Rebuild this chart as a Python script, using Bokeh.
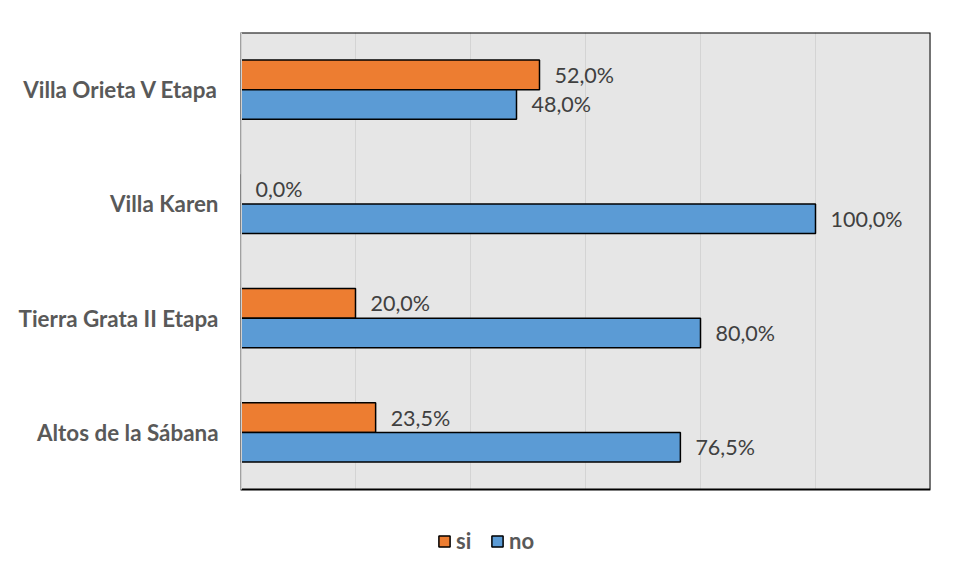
from bokeh.plotting import figure
from bokeh.models import (ColumnDataSource, Range1d, Legend, LegendItem,
                          FixedTicker, BoxAnnotation)
from bokeh.core.properties import value
from bokeh.embed import file_html
from bokeh.resources import INLINE

categories = ["Altos de la Sábana", "Tierra Grata II Etapa", "Villa Karen", "Villa Orieta V Etapa"]
si_values = [23.5, 20.0, 0.0, 52.0]
no_values = [76.5, 80.0, 100.0, 48.0]
x_ticks = [0, 20, 40, 60, 80, 100, 120]

def fmt(v):
    return f"{v:.1f}".replace(".", ",") + "%"

N = len(categories)
BAR_H = 0.26
OFF = 0.13
centers = [i + 0.5 for i in range(N)]

src = ColumnDataSource(dict(
    y_si=[c + OFF for c in centers],
    y_no=[c - OFF for c in centers],
    si=si_values,
    no=no_values,
    si_lbl=[fmt(v) for v in si_values],
    no_lbl=[fmt(v) for v in no_values],
))

W, H = 941, 563
TOP, LEFT, RIGHT = 32, 240, 11
PLOT_PX = 457                      # pixel height of the plotting area (categories)
unit = PLOT_PX / N
frame_h = H - TOP
y_bottom = N - frame_h / unit      # extra room under the plot area for the legend
frame_w = W - LEFT - RIGHT
px = (x_ticks[-1] - x_ticks[0]) / frame_w   # one pixel in x data units

p = figure(
    x_range=Range1d(x_ticks[0], x_ticks[-1]), y_range=Range1d(y_bottom, N),
    width=W, height=H, output_backend="svg", toolbar_location=None,
    min_border_left=LEFT, min_border_right=RIGHT, min_border_top=TOP, min_border_bottom=0,
)
p.background_fill_color = "white"
p.border_fill_color = "white"
p.outline_line_color = None
p.xgrid.grid_line_color = None
p.ygrid.grid_line_color = None
p.xaxis.visible = False

# plot-area background
p.add_layout(BoxAnnotation(left=x_ticks[0], right=x_ticks[-1], bottom=0, top=N,
                           fill_color="#E6E6E6", fill_alpha=1, line_color=None, level="underlay"))

# vertical gridlines
p.segment(x0=x_ticks, y0=[0] * len(x_ticks), x1=x_ticks, y1=[N] * len(x_ticks),
          line_color="#D4D4D4", line_width=1)

r_si = p.hbar(y="y_si", left=0, right="si", height=BAR_H,
              fill_color="#ED7D31", line_color="black", line_width=1.5, source=src)
r_no = p.hbar(y="y_no", left=0, right="no", height=BAR_H,
              fill_color="#5B9BD5", line_color="black", line_width=1.5, source=src)

p.text(x="si", y="y_si", text="si_lbl", source=src,
       x_offset=15, text_baseline="middle", text_align="left",
       text_font=value("Lato"), text_font_size="21.5px", text_color="#404040")
p.text(x="no", y="y_no", text="no_lbl", source=src,
       x_offset=15, text_baseline="middle", text_align="left",
       text_font=value("Lato"), text_font_size="21.5px", text_color="#404040")

# plot-area border: black top/right/bottom, light grey left
p.add_layout(BoxAnnotation(left=x_ticks[0], right=x_ticks[-1], bottom=0, top=N,
                           fill_alpha=0, line_color="black", line_alpha=1, line_width=2,
                           level="annotation"))
p.add_layout(BoxAnnotation(left=x_ticks[0] - 1.5 * px, right=x_ticks[0] + 1.5 * px,
                           bottom=0, top=N + 0.01,
                           fill_color="#D0D0D0", fill_alpha=1, line_color=None,
                           level="annotation"))

yax = p.yaxis[0]
yax.ticker = FixedTicker(ticks=centers)
yax.major_label_overrides = {c: name for c, name in zip(centers, categories)}
yax.axis_line_color = None
yax.major_tick_line_color = None
yax.minor_tick_line_color = None
yax.major_label_standoff = 16
yax.major_label_text_font = "Lato"
yax.major_label_text_font_style = "bold"
yax.major_label_text_font_size = "22.4px"
yax.major_label_text_color = "#595959"

legend = Legend(
    items=[LegendItem(label="si", renderers=[r_si]), LegendItem(label="no", renderers=[r_no])],
    orientation="horizontal", location=(197, 9),
    glyph_width=14, glyph_height=14, label_standoff=5, spacing=14,
    padding=0, margin=0, border_line_color=None, background_fill_alpha=0,
    label_text_font="Lato", label_text_font_style="bold", label_text_font_size="22px",
    label_text_color="#595959",
)
p.add_layout(legend, "center")

open("out.html", "w").write(file_html(p, INLINE))
